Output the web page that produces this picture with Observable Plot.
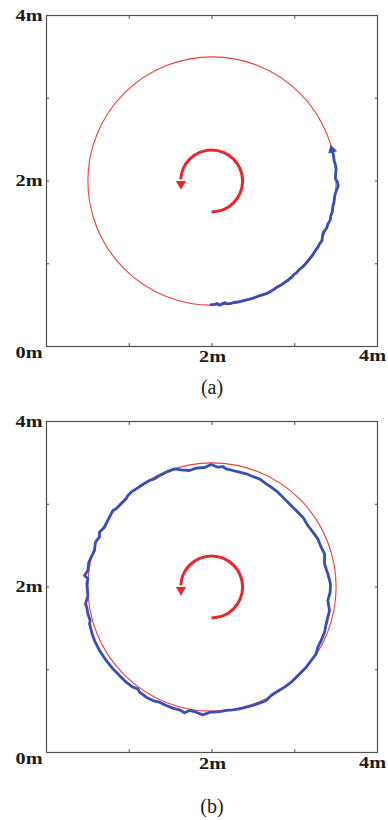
<!DOCTYPE html>
<html>
<head>
<meta charset="utf-8">
<script src="https://cdn.jsdelivr.net/npm/d3@7"></script>
<script src="https://cdn.jsdelivr.net/npm/@observablehq/plot@0.6"></script>
<style>
  html, body { margin: 0; padding: 0; background: #fff; }
  #chart { width: 388px; }
  #chart svg { display: block; }
</style>
</head>
<body>
<div id="chart"></div>
<script>
// ---- data ----
const innerTicks = [1, 2, 3];
const xLabelValues = [2, 4];
const xLabelTexts = ["2m", "4m"];
const yLabelValues = [4, 2];
const yLabelTexts = ["4m", "2m"];
const originLabel = "0m";
const captions = ["(a)", "(b)"];

// desired circular path (center, radius in metres)
const refCircle = [{cx: 2, cy: 2, radius: 1.5}];

// rotation-direction arrow in the centre (points read along the drawn arc)
const turnArc = [
  [1.995, 1.625], [2.139, 1.654], [2.260, 1.735], [2.341, 1.856], [2.370, 2.000],
  [2.341, 2.144], [2.260, 2.265], [2.139, 2.346], [1.995, 2.375], [1.851, 2.346],
  [1.730, 2.265], [1.649, 2.144], [1.622, 2.020]
];
const turnHead = [[1.625, 1.965]];

// measured trajectory, panel (a)
const trackA = [
  [1.99,0.505],[2.03,0.51],[2.06,0.52],[2.09,0.50],[2.12,0.515],[2.16,0.53],[2.19,0.515],
  [2.23,0.52],[2.27,0.535],[2.31,0.535],[2.36,0.548],[2.40,0.56],[2.445,0.57],[2.50,0.585],
  [2.55,0.605],[2.60,0.62],[2.65,0.635],[2.70,0.66],[2.75,0.69],[2.79,0.72],[2.84,0.745],
  [2.88,0.775],[2.92,0.80],[2.96,0.835],[2.985,0.865],[3.02,0.89],[3.06,0.935],[3.10,0.965],
  [3.15,1.02],[3.19,1.07],[3.22,1.11],[3.25,1.16],[3.28,1.20],[3.30,1.24],[3.33,1.28],
  [3.335,1.33],[3.345,1.38],[3.385,1.43],[3.40,1.48],[3.43,1.53],[3.435,1.58],[3.455,1.63],
  [3.46,1.69],[3.475,1.75],[3.48,1.80],[3.49,1.85],[3.525,1.94],[3.515,1.99],[3.49,2.03],
  [3.495,2.09],[3.50,2.15],[3.49,2.20],[3.475,2.25],[3.47,2.30],[3.46,2.34]
];
const trackAHead = [[3.45, 2.377]];

// measured trajectory, panel (b)
const trackB = [
  [1.978,0.487],[1.889,0.455],[1.809,0.487],[1.728,0.508],[1.668,0.479],[1.607,0.516],[1.527,0.536],
  [1.446,0.568],[1.366,0.608],[1.285,0.628],[1.204,0.669],[1.124,0.729],[1.104,0.769],[1.043,0.790],
  [0.963,0.850],[0.882,0.930],[0.802,1.011],[0.721,1.112],[0.640,1.233],[0.580,1.353],[0.552,1.434],
  [0.520,1.555],[0.528,1.595],[0.500,1.676],[0.487,1.756],[0.471,1.797],[0.500,1.897],[0.487,2.038],
  [0.500,2.099],[0.459,2.139],[0.500,2.199],[0.512,2.300],[0.540,2.361],[0.580,2.441],[0.592,2.542],
  [0.640,2.602],[0.640,2.663],[0.701,2.723],[0.761,2.844],[0.802,2.924],[0.842,2.945],[0.902,3.005],
  [0.963,3.065],[0.983,3.106],[1.023,3.146],[1.084,3.186],[1.164,3.239],[1.245,3.287],[1.305,3.307],
  [1.366,3.347],[1.446,3.388],[1.547,3.428],[1.627,3.416],[1.728,3.408],[1.809,3.436],[1.909,3.444],
  [1.990,3.480],[2.070,3.448],[2.131,3.456],[2.171,3.428],[2.252,3.408],[2.332,3.388],[2.413,3.368],
  [2.493,3.335],[2.574,3.307],[2.655,3.247],[2.715,3.206],[2.796,3.146],[2.856,3.086],[2.916,3.025],
  [2.977,2.965],[3.037,2.904],[3.098,2.844],[3.158,2.743],[3.219,2.663],[3.279,2.582],[3.319,2.481],
  [3.360,2.401],[3.360,2.280],[3.400,2.159],[3.432,2.038],[3.428,1.938],[3.400,1.837],[3.420,1.716],
  [3.380,1.555],[3.360,1.454],[3.319,1.353],[3.279,1.273],[3.259,1.192],[3.198,1.112],[3.138,1.031],
  [3.077,0.971],[3.017,0.910],[2.957,0.850],[2.876,0.790],[2.775,0.729],[2.715,0.689],[2.655,0.628],
  [2.574,0.596],[2.493,0.568],[2.413,0.548],[2.332,0.528],[2.252,0.516],[2.171,0.508],[2.091,0.495],
  [2.030,0.487],[1.978,0.487]
];

// ---- drawing ----
const RED = "#e8262b";
const RED_THIN = "#f04040";
const BLUE = "#3a4db1";
const FRAME = "#505050";
const INK = "#1a1a1a";
const serif = "Liberation Serif, Times New Roman, serif";
const INNER = 331;

function panel({track, head, caption, marginTop, height, captionDy, xLabelDy}) {
  const labelFont = {fontFamily: serif, fontWeight: "bold", fontSize: 16, fill: INK};
  const marks = [
    Plot.dot(refCircle, {x: "cx", y: "cy", r: "radius", stroke: RED_THIN, strokeWidth: 1.1, fill: "none"}),
    Plot.line(track, {stroke: BLUE, strokeWidth: 2.8, strokeLinejoin: "round", strokeLinecap: "round"}),
    Plot.line(turnArc, {stroke: RED, strokeWidth: 3, strokeLinecap: "butt", strokeLinejoin: "round", curve: "natural"}),
    Plot.dot(turnHead, {symbol: "triangle", r: 3.8, fill: RED, stroke: "none", rotate: 180}),
    Plot.frame({stroke: FRAME, strokeWidth: 1.2}),
    Plot.axisX({anchor: "bottom", ticks: innerTicks, tickSize: -3, fill: "none", stroke: FRAME, label: null}),
    Plot.axisX({anchor: "top", ticks: innerTicks, tickSize: -3, fill: "none", stroke: FRAME, label: null}),
    Plot.axisY({anchor: "left", ticks: innerTicks, tickSize: -3, fill: "none", stroke: FRAME, label: null}),
    Plot.axisY({anchor: "right", ticks: innerTicks, tickSize: -3, fill: "none", stroke: FRAME, label: null}),
    Plot.text(yLabelValues, {y: d => d, text: (d, i) => yLabelTexts[i], frameAnchor: "left", textAnchor: "end", dx: -4, ...labelFont}),
    Plot.text([originLabel], {text: d => d, frameAnchor: "bottom-left", textAnchor: "end", dx: -4, dy: xLabelDy - 4.5, ...labelFont}),
    Plot.text(xLabelValues.slice(0, 1), {x: d => d, text: (d, i) => xLabelTexts[i], frameAnchor: "bottom", dy: xLabelDy, dx: 0.5, ...labelFont}),
    Plot.text(xLabelValues.slice(1), {x: d => d, text: (d, i) => xLabelTexts[i + 1], frameAnchor: "bottom", dy: xLabelDy - 1, dx: -5, ...labelFont}),
    Plot.text([caption], {text: d => d, frameAnchor: "bottom", dy: captionDy, fontFamily: serif, fontSize: 20, fill: INK})
  ];
  if (head) {
    marks.splice(2, 0, Plot.dot(head, {symbol: "triangle", r: 3.4, fill: BLUE, stroke: "none", rotate: -15}));
  }
  const svg = Plot.plot({
    width: 388,
    height,
    marginLeft: 46,
    marginRight: 388 - 46 - INNER,
    marginTop,
    marginBottom: height - marginTop - INNER,
    x: {domain: [0, 4]},
    y: {domain: [0, 4]},
    r: {type: "linear", domain: [0, 4], range: [0, INNER]},
    style: {background: "#fff"},
    marks
  });
  // widen the bold tick labels like the original typesetting
  svg.querySelectorAll("text").forEach(t => {
    if (/^\dm$/.test(t.textContent.trim())) {
      t.setAttribute("textLength", 27);
      t.setAttribute("lengthAdjust", "spacingAndGlyphs");
    }
  });
  return svg;
}

const root = document.getElementById("chart");
root.appendChild(panel({track: trackA, head: trackAHead, caption: captions[0], marginTop: 15, height: 410, captionDy: 47, xLabelDy: 15.5}));
root.appendChild(panel({track: trackB, head: null, caption: captions[1], marginTop: 11, height: 410, captionDy: 60, xLabelDy: 16}));
</script>
</body>
</html>
